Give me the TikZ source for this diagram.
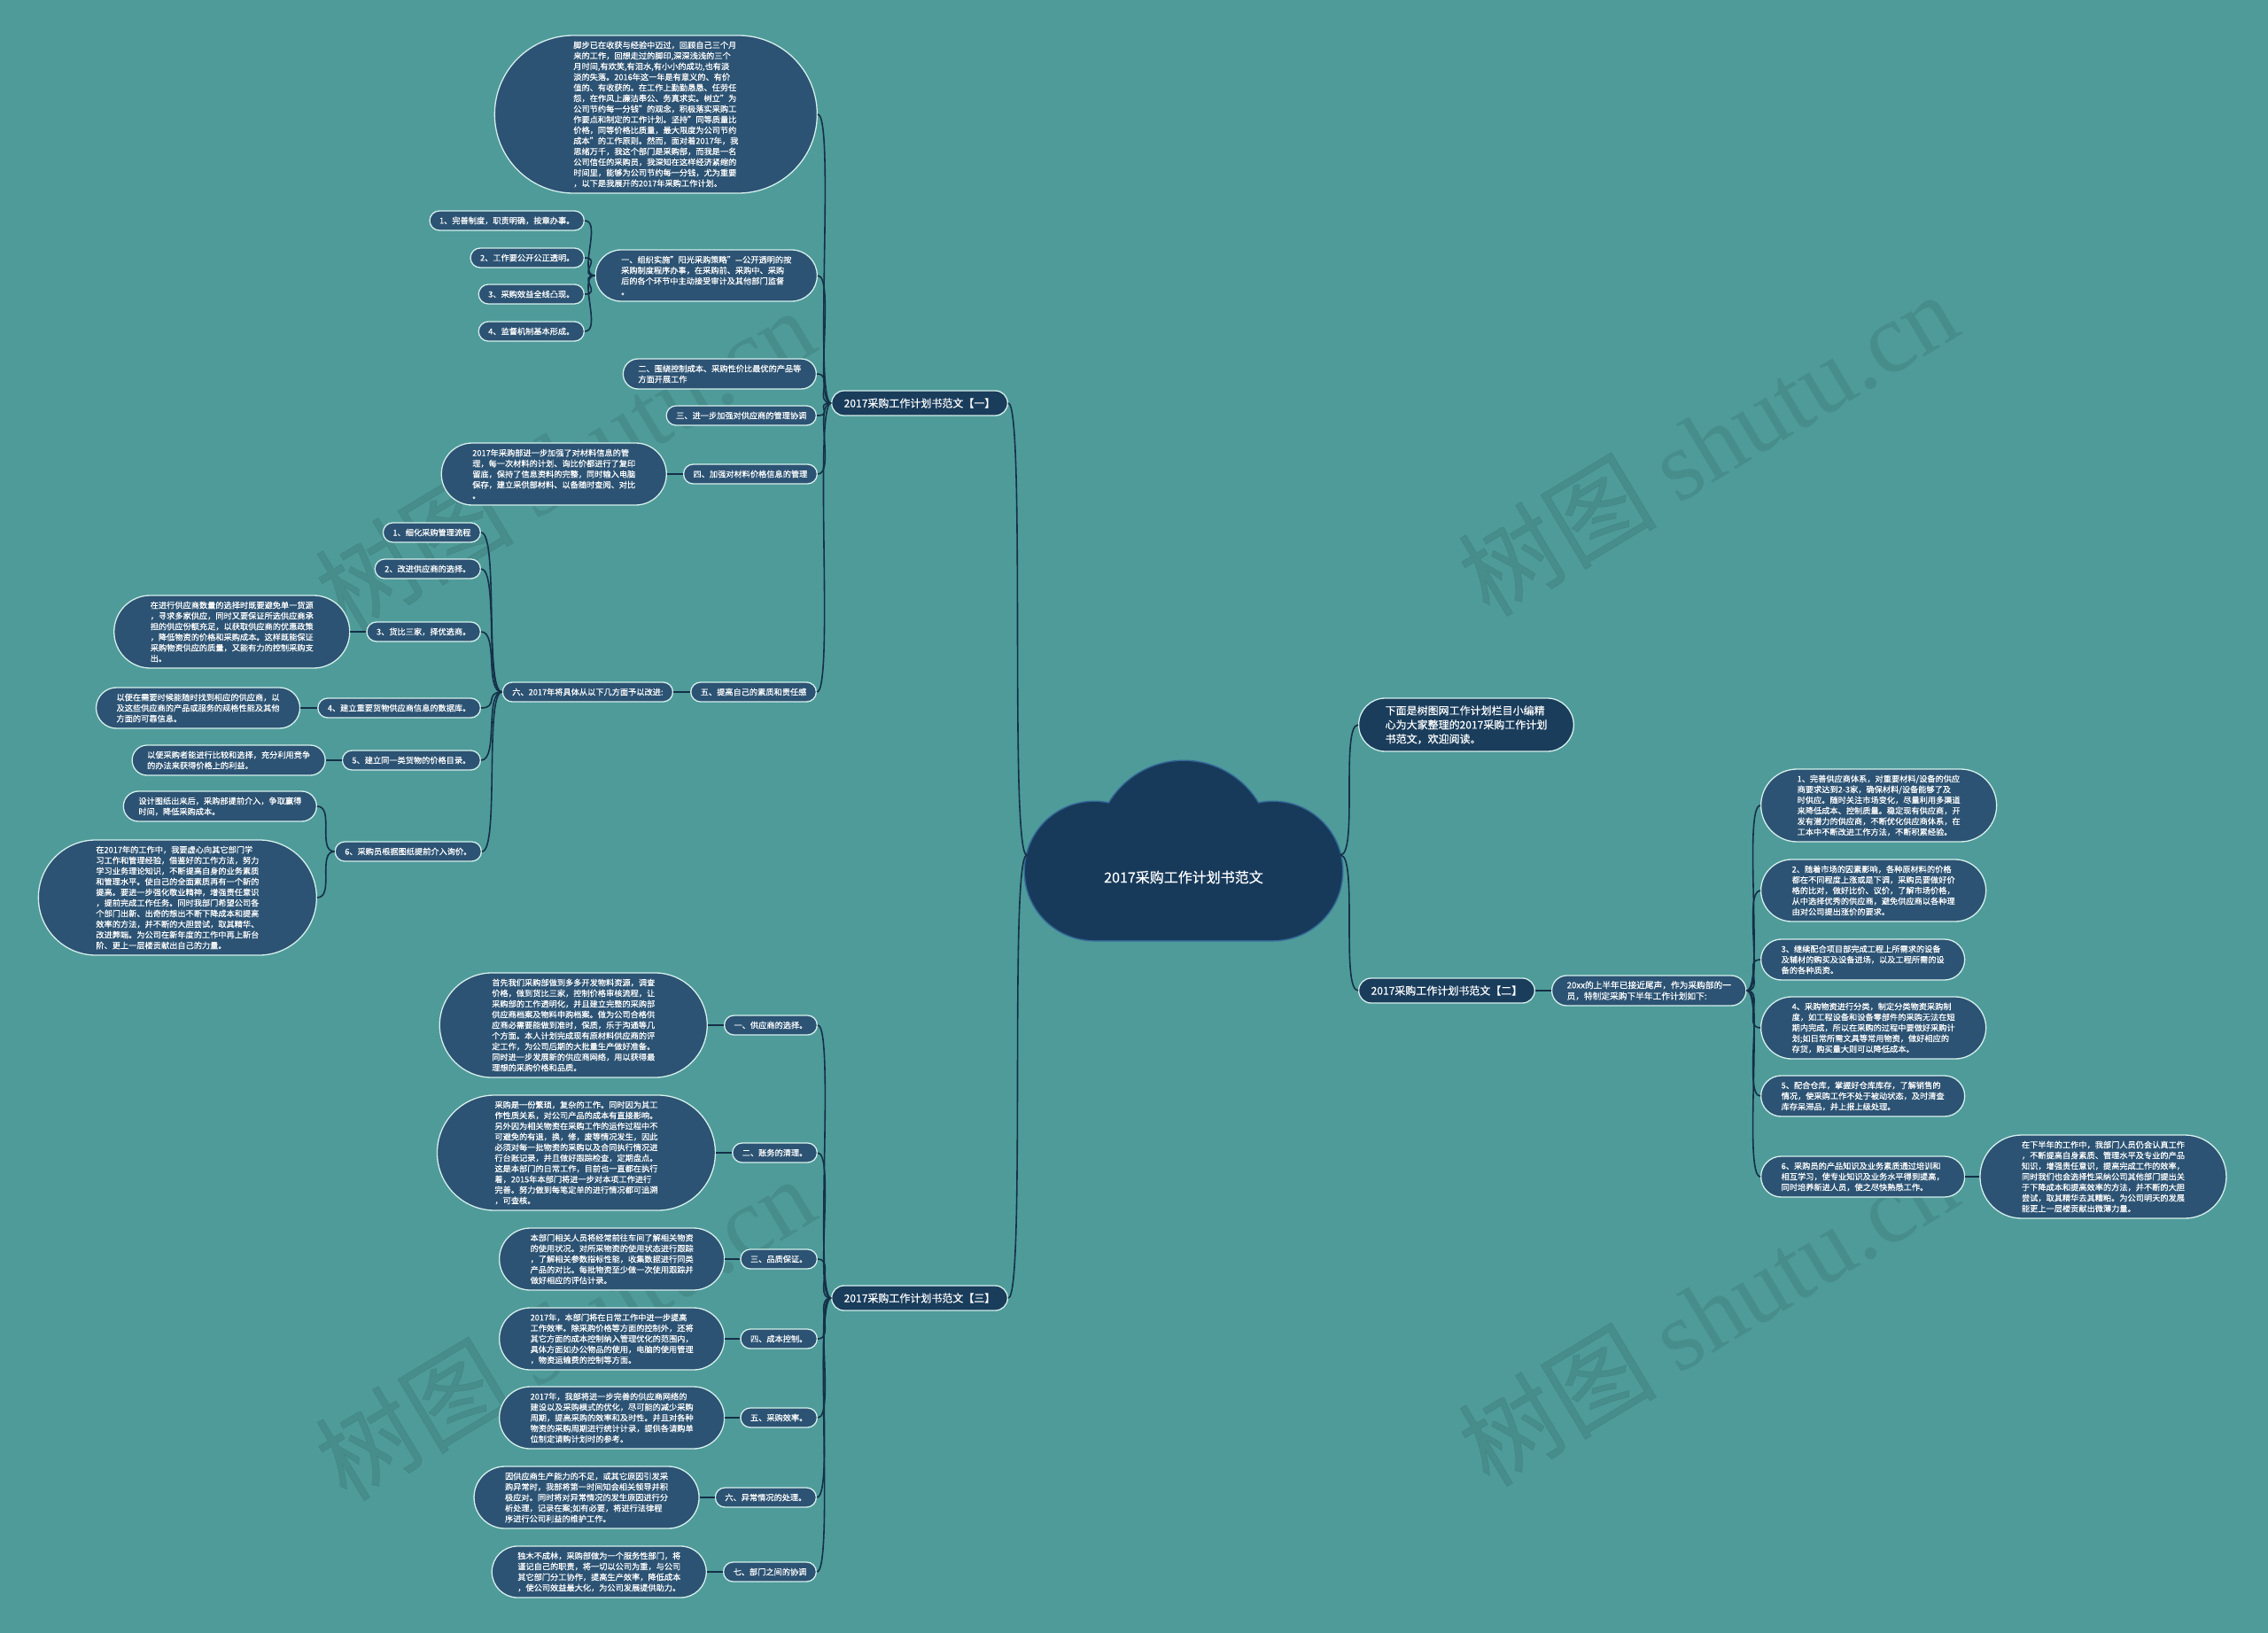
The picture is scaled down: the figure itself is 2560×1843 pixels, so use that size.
\documentclass[tikz,border=0pt]{standalone}
\usepackage{fontspec}
\setmainfont{Noto Sans CJK SC}[FakeBold=0.35]
\newfontfamily\wmfont{Liberation Serif}
\usetikzlibrary{positioning}
\definecolor{sea}{RGB}{78,155,154}
\definecolor{leafc}{RGB}{44,83,115}
\definecolor{trunkc}{RGB}{26,61,92}
\definecolor{rim}{RGB}{214,240,236}
\definecolor{twigc}{RGB}{20,48,72}
\definecolor{cloudc}{RGB}{24,58,90}
\definecolor{cloudrim}{RGB}{52,104,152}

\begin{document}
\begin{tikzpicture}[x=1pt, y=-1pt,
  leaf/.style={rectangle, draw=rim, fill=leafc, line width=1.3pt,
               text=white, font=\fontsize{9.2}{12}\selectfont, align=left,
               inner ysep=2pt, minimum height={12pt*#1+10pt},
               rounded corners={6pt*#1+4.9pt}, inner xsep={6pt*#1+5pt}},
  leaf/.default=1,
  trunk/.style={leaf, fill=trunkc, font=\fontsize{12}{16}\selectfont,
               minimum height={16pt*#1+12pt},
               rounded corners={8pt*#1+5.9pt}, inner xsep={8pt*#1+6pt}},
  trunk/.default=1,
  twig/.style={draw=twigc, line width=1.6pt},
  bendl/.style={to path={.. controls +(-20,0) and +(20,0) .. (\tikztotarget)}},
  bendr/.style={to path={.. controls +(20,0) and +(-20,0) .. (\tikztotarget)}},
  wmark/.style={font=\fontsize{112}{112}\selectfont, text=black, text opacity=0.09, rotate=31},
]
  \useasboundingbox (0,0) rectangle (2560,1843);
  \fill[sea] (0,0) rectangle (2560,1843);

  % watermarks
  \node[wmark] (wm1) at (637,518) {树图 {\wmfont shutu.cn}};
  \node[wmark] (wm2) at (1927,500) {树图 {\wmfont shutu.cn}};
  \node[wmark] (wm3) at (637,1498) {树图 {\wmfont shutu.cn}};
  \node[wmark] (wm4) at (1927,1482) {树图 {\wmfont shutu.cn}};

  % cloud
  \draw[draw=cloudrim, line width=3pt] (1336,957) circle (98pt) (1235,983) circle (78pt)
    (1437,983) circle (78pt) (1235,983) rectangle (1437,1061);
  \fill[cloudc] (1336,957) circle (98pt) (1235,983) circle (78pt)
    (1437,983) circle (78pt) (1235,983) rectangle (1437,1061);
  \node[text=white, font=\fontsize{16}{20}\selectfont] (root) at (1336,990) {2017采购工作计划书范文};
  \coordinate (cl) at (1159,965);
  \coordinate (cr) at (1513,965);

  % first sample
  \node[trunk, anchor=east] (one) at (1138,455) {2017采购工作计划书范文【一】};
  \node[leaf=14, anchor=east] (intro1) at (923,129) {脚步已在收获与经验中迈过，回顾自己三个月\\来的工作，回想走过的脚印,深深浅浅的三个\\月时间,有欢笑,有泪水,有小小的成功,也有淡\\淡的失落。2016年这一年是有意义的、有价\\值的、有收获的。在工作上勤勤恳恳、任劳任\\怨，在作风上廉洁奉公、务真求实。树立"为\\公司节约每一分钱"的观念，积极落实采购工\\作要点和制定的工作计划。坚持"同等质量比\\价格，同等价格比质量，最大限度为公司节约\\成本"的工作原则。然而，面对着2017年，我\\思绪万千，我这个部门是采购部，而我是一名\\公司信任的采购员，我深知在这样经济紧缩的\\时间里，能够为公司节约每一分钱，尤为重要\\，以下是我展开的2017年采购工作计划。};
  \node[leaf=4, anchor=east] (sun) at (923,311) {一、组织实施"阳光采购策略"—公开透明的按\\采购制度程序办事，在采购前、采购中、采购\\后的各个环节中主动接受审计及其他部门监督\\。};
  \node[leaf, anchor=east] (sun1) at (660,249) {1、完善制度，职责明确，按章办事。};
  \node[leaf, anchor=east] (sun2) at (660,291) {2、工作要公开公正透明。};
  \node[leaf, anchor=east] (sun3) at (660,332) {3、采购效益全线凸现。};
  \node[leaf, anchor=east] (sun4) at (660,374) {4、监督机制基本形成。};
  \node[leaf=2, anchor=east] (cost) at (922,422) {二、围绕控制成本、采购性价比最优的产品等\\方面开展工作};
  \node[leaf, anchor=east] (coord) at (922,469) {三、进一步加强对供应商的管理协调};
  \node[leaf, anchor=east] (price) at (923,535) {四、加强对材料价格信息的管理};
  \node[leaf=5, left=18pt of price] (price1) {2017年采购部进一步加强了对材料信息的管\\理，每一次材料的计划、询比价都进行了复印\\留底，保持了信息资料的完整，同时输入电脑\\保存，建立采供部材料、以备随时查阅、对比\\。};
  \node[leaf, anchor=east] (self) at (922,781) {五、提高自己的素质和责任感};
  \node[leaf, left=19pt of self] (plan) {六、2017年将具体从以下几方面予以改进:};
  \node[leaf, anchor=east] (plan1) at (543,601) {1、细化采购管理流程};
  \node[leaf, anchor=east] (plan2) at (543,642) {2、改进供应商的选择。};
  \node[leaf, anchor=east] (plan3) at (543,713) {3、货比三家，择优选商。};
  \node[leaf=6, left=18pt of plan3] (plan3a) {在进行供应商数量的选择时既要避免单一货源\\，寻求多家供应，同时又要保证所选供应商承\\担的供应份额充足，以获取供应商的优惠政策\\，降低物资的价格和采购成本。这样既能保证\\采购物资供应的质量，又能有力的控制采购支\\出。};
  \node[leaf, anchor=east] (plan4) at (543,799) {4、建立重要货物供应商信息的数据库。};
  \node[leaf=3, left=19pt of plan4] (plan4a) {以便在需要时候能随时找到相应的供应商，以\\及这些供应商的产品或服务的规格性能及其他\\方面的可靠信息。};
  \node[leaf, anchor=east] (plan5) at (543,858) {5、建立同一类货物的价格目录。};
  \node[leaf=2, left=18pt of plan5] (plan5a) {以便采购者能进行比较和选择，充分利用竞争\\的办法来获得价格上的利益。};
  \node[leaf, anchor=east] (plan6) at (544,961) {6、采购员根据图纸提前介入询价。};
  \node[leaf=2, anchor=east] (plan6a) at (358,910) {设计图纸出来后，采购部提前介入，争取赢得\\时间，降低采购成本。};
  \node[leaf=10, anchor=east] (plan6b) at (358,1013) {在2017年的工作中，我要虚心向其它部门学\\习工作和管理经验，借鉴好的工作方法，努力\\学习业务理论知识，不断提高自身的业务素质\\和管理水平。使自己的全面素质再有一个新的\\提高。要进一步强化敬业精神，增强责任意识\\，提前完成工作任务。同时我部门希望公司各\\个部门出新、出奇的想出不断下降成本和提高\\效率的方法，并不断的大胆尝试，取其精华、\\改进弊端。为公司在新年度的工作中再上新台\\阶、更上一层楼贡献出自己的力量。};

  % third sample
  \node[trunk, anchor=east] (three) at (1138,1465) {2017采购工作计划书范文【三】};
  \node[leaf, anchor=east] (vendor) at (923,1157) {一、供应商的选择。};
  \node[leaf=9, left=18pt of vendor] (vendor1) {首先我们采购部做到多多开发物料资源，调查\\价格，做到货比三家，控制价格审核流程，让\\采购部的工作透明化，并且建立完整的采购部\\供应商档案及物料申购档案。做为公司合格供\\应商必需要能做到准时，保质，乐于沟通等几\\个方面。本人计划完成现有原材料供应商的评\\定工作，为公司后期的大批量生产做好准备。\\同时进一步发展新的供应商网络，用以获得最\\理想的采购价格和品质。};
  \node[leaf, anchor=east] (books) at (923,1301) {二、账务的清理。};
  \node[leaf=10, left=18pt of books] (books1) {采购是一份繁琐，复杂的工作。同时因为其工\\作性质关系，对公司产品的成本有直接影响。\\另外因为相关物资在采购工作的运作过程中不\\可避免的有退，换，修，废等情况发生，因此\\必须对每一批物资的采购以及合同执行情况进\\行台账记录，并且做好跟踪检查，定期盘点。\\这是本部门的日常工作，目前也一直都在执行\\着，2015年本部门将进一步对本项工作进行\\完善。努力做到每笔定单的进行情况都可追溯\\，可查核。};
  \node[leaf, anchor=east] (quality) at (923,1421) {三、品质保证。};
  \node[leaf=5, left=17pt of quality] (quality1) {本部门相关人员将经常前往车间了解相关物资\\的使用状况。对所采物资的使用状态进行跟踪\\，了解相关参数指标性能，收集数据进行同类\\产品的对比。每批物资至少做一次使用跟踪并\\做好相应的评估计录。};
  \node[leaf, anchor=east] (budget) at (923,1511) {四、成本控制。};
  \node[leaf=5, left=17pt of budget] (budget1) {2017年，本部门将在日常工作中进一步提高\\工作效率。除采购价格等方面的控制外，还将\\其它方面的成本控制纳入管理优化的范围内，\\具体方面如办公物品的使用，电脑的使用管理\\，物资运输费的控制等方面。};
  \node[leaf, anchor=east] (speed) at (923,1600) {五、采购效率。};
  \node[leaf=5, left=17pt of speed] (speed1) {2017年，我部将进一步完善的供应商网络的\\建设以及采购模式的优化，尽可能的减少采购\\周期，提高采购的效率和及时性。并且对各种\\物资的采购周期进行统计计录，提供各请购单\\位制定请购计划时的参考。};
  \node[leaf, anchor=east] (fault) at (922,1690) {六、异常情况的处理。};
  \node[leaf=5, left=17pt of fault] (fault1) {因供应商生产能力的不足，或其它原因引发采\\购异常时，我部将第一时间知会相关领导并积\\极应对。同时将对异常情况的发生原因进行分\\析处理，记录在案;如有必要，将进行法律程\\序进行公司利益的维护工作。};
  \node[leaf, anchor=east] (team) at (922,1774) {七、部门之间的协调};
  \node[leaf=4, left=18pt of team] (team1) {独木不成林，采购部做为一个服务性部门，将\\谨记自己的职责，将一切以公司为重，与公司\\其它部门分工协作，提高生产效率，降低成本\\，使公司效益最大化，为公司发展提供助力。};

  % right side
  \node[trunk=3, anchor=west] (lead) at (1533,818) {下面是树图网工作计划栏目小编精\\心为大家整理的2017采购工作计划\\书范文，欢迎阅读。};
  \node[trunk, anchor=west] (two) at (1533,1118) {2017采购工作计划书范文【二】};
  \node[leaf=2, right=18pt of two, font=\fontsize{9.7}{12.3}\selectfont] (half) {20xx的上半年已接近尾声，作为采购部的一\\员，特制定采购下半年工作计划如下:};
  \node[leaf=6, anchor=west] (two1) at (1987,909) {1、完善供应商体系，对重要材料/设备的供应\\商要求达到2-3家，确保材料/设备能够了及\\时供应。随时关注市场变化，尽量利用多渠道\\来降低成本、控制质量。稳定现有供应商，开\\发有潜力的供应商，不断优化供应商体系，在\\工本中不断改进工作方法，不断积累经验。};
  \node[leaf=5, anchor=west] (two2) at (1987,1005) {2、随着市场的因素影响，各种原材料的价格\\都在不同程度上涨或是下调，采购员要做好价\\格的比对，做好比价、议价，了解市场价格，\\从中选择优秀的供应商，避免供应商以各种理\\由对公司提出涨价的要求。};
  \node[leaf=3, anchor=west] (two3) at (1987,1083) {3、继续配合项目部完成工程上所需求的设备\\及辅材的购买及设备进场，以及工程所需的设\\备的各种质资。};
  \node[leaf=5, anchor=west] (two4) at (1987,1160) {4、采购物资进行分类，制定分类物资采购制\\度，如工程设备和设备零部件的采购无法在短\\期内完成，所以在采购的过程中要做好采购计\\划;如日常所需文具等常用物资，做好相应的\\存货，购买量大则可以降低成本。};
  \node[leaf=3, anchor=west] (two5) at (1987,1237) {5、配合仓库，掌握好仓库库存，了解销售的\\情况，使采购工作不处于被动状态，及时清查\\库存呆滞品，并上报上级处理。};
  \node[leaf=3, anchor=west] (two6) at (1987,1328) {6、采购员的产品知识及业务素质通过培训和\\相互学习，使专业知识及业务水平得到提高，\\同时培养新进人员，使之尽快熟悉工作。};
  \node[leaf=7, right=16pt of two6] (two6a) {在下半年的工作中，我部门人员仍会认真工作\\，不断提高自身素质、管理水平及专业的产品\\知识，增强责任意识，提高完成工作的效率，\\同时我们也会选择性采纳公司其他部门提出关\\于下降成本和提高效率的方法，并不断的大胆\\尝试，取其精华去其糟粕。为公司明天的发展\\能更上一层楼贡献出微薄力量。};

  % connectors
  \draw[twig] (cl) to[bendl] (one.east);
  \draw[twig] (cl) to[bendl] (three.east);
  \draw[twig] (cr) to[bendr] (lead.west);
  \draw[twig] (cr) to[bendr] (two.west);

  \draw[twig] (one.west) to[bendl] (intro1.east);
  \draw[twig] (one.west) to[bendl] (sun.east);
  \draw[twig] (one.west) to[bendl] (cost.east);
  \draw[twig] (one.west) to[bendl] (coord.east);
  \draw[twig] (one.west) to[bendl] (price.east);
  \draw[twig] (one.west) to[bendl] (self.east);
  \draw[twig] (sun.west) to[bendl] (sun1.east);
  \draw[twig] (sun.west) to[bendl] (sun2.east);
  \draw[twig] (sun.west) to[bendl] (sun3.east);
  \draw[twig] (sun.west) to[bendl] (sun4.east);
  \draw[twig] (price.west) -- (price1.east);
  \draw[twig] (self.west) -- (plan.east);
  \draw[twig] (plan.west) to[bendl] (plan1.east);
  \draw[twig] (plan.west) to[bendl] (plan2.east);
  \draw[twig] (plan.west) to[bendl] (plan3.east);
  \draw[twig] (plan.west) to[bendl] (plan4.east);
  \draw[twig] (plan.west) to[bendl] (plan5.east);
  \draw[twig] (plan.west) to[bendl] (plan6.east);
  \draw[twig] (plan3.west) -- (plan3a.east);
  \draw[twig] (plan4.west) -- (plan4a.east);
  \draw[twig] (plan5.west) -- (plan5a.east);
  \draw[twig] (plan6.west) to[bendl] (plan6a.east);
  \draw[twig] (plan6.west) to[bendl] (plan6b.east);

  \draw[twig] (three.west) to[bendl] (vendor.east);
  \draw[twig] (three.west) to[bendl] (books.east);
  \draw[twig] (three.west) to[bendl] (quality.east);
  \draw[twig] (three.west) to[bendl] (budget.east);
  \draw[twig] (three.west) to[bendl] (speed.east);
  \draw[twig] (three.west) to[bendl] (fault.east);
  \draw[twig] (three.west) to[bendl] (team.east);
  \draw[twig] (vendor.west) -- (vendor1.east);
  \draw[twig] (books.west) -- (books1.east);
  \draw[twig] (quality.west) -- (quality1.east);
  \draw[twig] (budget.west) -- (budget1.east);
  \draw[twig] (speed.west) -- (speed1.east);
  \draw[twig] (fault.west) -- (fault1.east);
  \draw[twig] (team.west) -- (team1.east);

  \draw[twig] (two.east) -- (half.west);
  \draw[twig] (half.east) to[bendr] (two1.west);
  \draw[twig] (half.east) to[bendr] (two2.west);
  \draw[twig] (half.east) to[bendr] (two3.west);
  \draw[twig] (half.east) to[bendr] (two4.west);
  \draw[twig] (half.east) to[bendr] (two5.west);
  \draw[twig] (half.east) to[bendr] (two6.west);
  \draw[twig] (two6.east) -- (two6a.west);
\end{tikzpicture}
\end{document}
